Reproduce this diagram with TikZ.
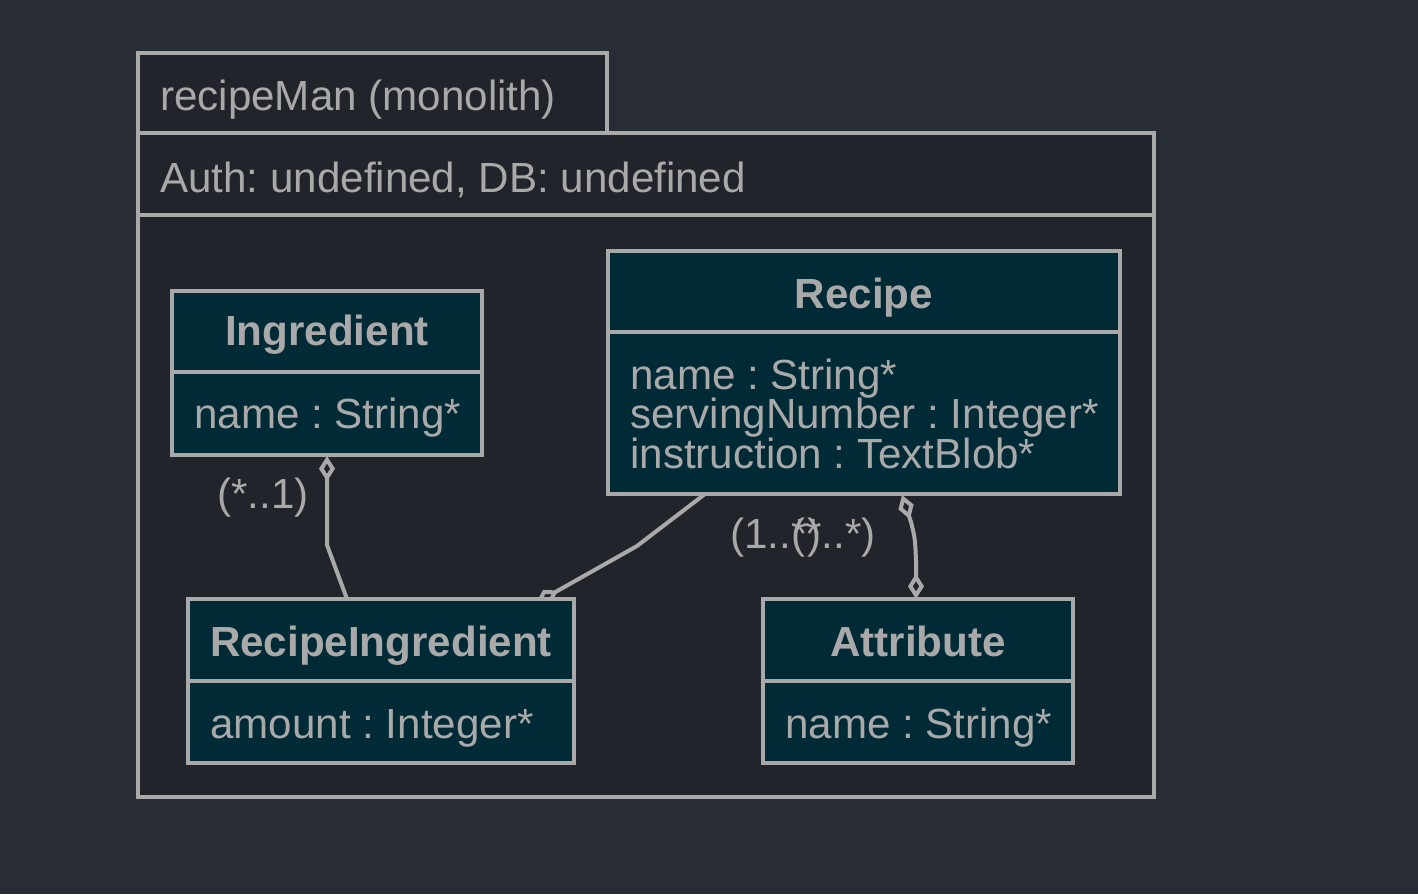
\documentclass[tikz,border=0pt]{standalone}
\usepackage{fontspec}
\setmainfont{Liberation Sans}
\usetikzlibrary{arrows.meta,fit}
\definecolor{bgcol}{HTML}{282C34}
\definecolor{pkgfill}{HTML}{21252B}
\definecolor{clsfill}{HTML}{002B36}
\definecolor{strokecol}{HTML}{A9A9A9}
\definecolor{txtcol}{HTML}{A9A9A9}
\pgfdeclarelayer{bglayer}
\pgfdeclarelayer{connlayer}
\pgfsetlayers{bglayer,connlayer,main}
\frenchspacing
\tikzset{
  pkgbox/.style={draw=strokecol, fill=pkgfill, line width=3pt, inner sep=0pt},
  classbox/.style={draw=strokecol, fill=clsfill, line width=3pt, inner sep=0pt},
  divider/.style={draw=strokecol, line width=3pt},
  txt/.style={text=txtcol, inner sep=0pt, font=\fontsize{31.6}{29.6}\selectfont},
  ttl/.style={txt, anchor=base, font=\fontsize{31.6}{29.6}\selectfont\bfseries},
  attr/.style={txt, anchor=base west},
  conn/.style={draw=strokecol, line width=3pt, line join=round},
  dia/.tip={Diamond[open, length=19pt, width=12pt]},
}
\begin{document}
\begin{tikzpicture}[x=0.75pt,y=-0.75pt]
\useasboundingbox (0,0) rectangle (1418,894);
\begin{pgfonlayer}{bglayer}
\fill[bgcol] (0,0) rectangle (1418,894);
% package
\node[pkgbox, fit={(138,53) (607,133)}] (tab) {};
\node[pkgbox, fit={(138,133) (1154,797)}] (pkg) {};
\draw[divider] (138,215) -- (1154,215);
\end{pgfonlayer}
\node[attr] (tabtxt) at (160,110) {recipeMan (monolith)};
\node[attr] (authtxt) at (160,192) {Auth: undefined, DB: undefined};
% classes
\node[classbox, fit={(172,291) (482,455)}] (ing) {};
\draw[divider] (172,372) -- (482,372);
\node[ttl] (ingt) at (327,345) {Ingredient};
\node[attr] (inga) at (194,428) {name : String*};

\node[classbox, fit={(608,251) (1120,494)}] (rec) {};
\draw[divider] (608,332) -- (1120,332);
\node[ttl] (rect) at (864,308) {Recipe};
\node[attr] (reca1) at (630,389) {name : String*};
\node[attr] (reca2) at (630,428) {servingNumber : Integer*};
\node[attr] (reca3) at (630,468) {instruction : TextBlob*};

\node[classbox, fit={(188,599) (574,763)}] (ri) {};
\draw[divider] (188,681) -- (574,681);
\node[ttl] (rit) at (381,656) {RecipeIngredient};
\node[attr] (ria) at (210,738) {amount : Integer*};

\node[classbox, fit={(763,599) (1073,763)}] (att) {};
\draw[divider] (763,681) -- (1073,681);
\node[ttl] (attt) at (918,656) {Attribute};
\node[attr] (atta) at (785,738) {name : String*};

% connector anchors
\coordinate (c1a) at (327,456);
\coordinate (c1b) at (327,545);
\coordinate (c1c) at (347,599);
\coordinate (c2a) at (705,494);
\coordinate (c2b) at (637,546);
\coordinate (c2c) at (536,603);
\coordinate (c3a) at (902,495);
\coordinate (c3b) at (911,522);
\coordinate (c3c) at (916,560);
\coordinate (c3d) at (916,599);
\begin{pgfonlayer}{connlayer}
\draw[conn, dia-] (c1a) -- (c1b) -- (c1c);
\draw[conn, -dia] (c2a) -- (c2b) -- (c2c);
\draw[conn, dia-dia] (c3a) -- (c3b) .. controls (915,538) .. (c3c) -- (c3d);
\end{pgfonlayer}
% labels
\node[attr] (l1) at (217,508) {(*..1)};
\node[attr] (l2) at (730,548) {(1..*)};
\node[attr] (l3) at (791,548) {(*..*)};
\end{tikzpicture}
\end{document}
